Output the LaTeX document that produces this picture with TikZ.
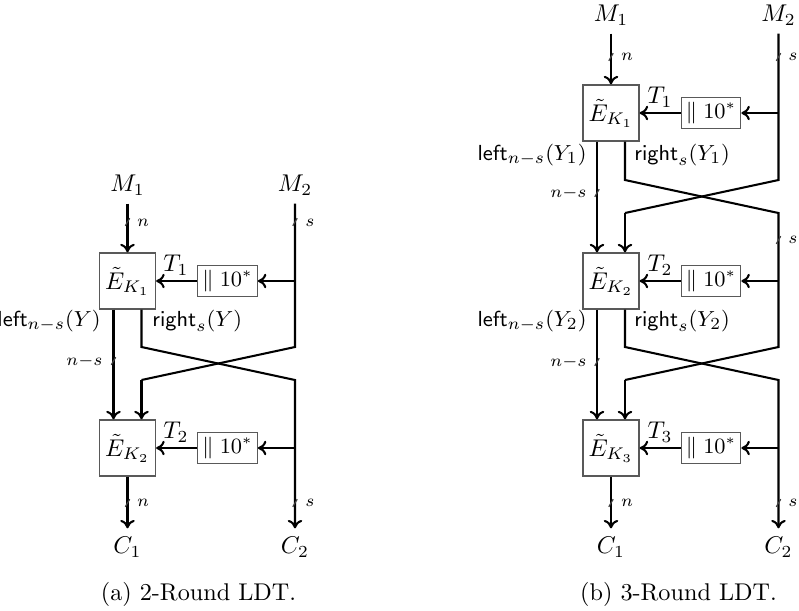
\documentclass[tikz,border=0pt]{standalone}
\usepackage{amsmath}
\usetikzlibrary{arrows.meta}
\begin{document}
\tikzset{
 ebox/.style={draw=black!65, line width=0.5pt, minimum width=23.2pt, minimum height=23.2pt, inner sep=0pt},
 tbox/.style={draw=black!65, line width=0.5pt, minimum width=24.6pt, minimum height=12.8pt, inner sep=0pt, font=\fontsize{9.2pt}{11pt}\selectfont},
 wire/.style={line width=0.85pt},
 arr/.style={wire,-{To[length=3.5pt,width=6pt]}},
 tkst/.style={black!75, line width=0.5pt},
 tklab/.style={font=\scriptsize, inner sep=0pt},
 lab/.style={inner sep=0pt, font=\fontsize{9.3pt}{11pt}\selectfont},
}
\newcommand\bustick{}
\renewcommand\bustick[2]{\draw[tkst] (#1-2.2,#2+3.8) -- (#1+2.2,#2-3.8);}
\begin{tikzpicture}[x=0.4132pt,y=-0.4132pt]
\useasboundingbox (0,0) rectangle (799,610);
% ---------------- (a) 2-Round ----------------
\node (am1) at (127.5,185) {$M_1$};
\node (am2) at (295,185) {$M_2$};
\node[ebox] (ae1) at (127.5,281) {$\tilde{E}_{K_1}$};
\node[tbox] (at1) at (227.5,281) {$\parallel 10^*$};
\node[ebox] (ae2) at (127.5,448) {$\tilde{E}_{K_2}$};
\node[tbox] (at2) at (227.5,448) {$\parallel 10^*$};
\node (ac1) at (127.5,547) {$C_1$};
\node (ac2) at (295,547) {$C_2$};
\coordinate (aj1) at (295,281);
\coordinate (aj2) at (295,448);
\coordinate (ax1) at (141.5,347);
\coordinate (ax2) at (295,380);
\coordinate (ay1) at (295,347);
\coordinate (ay2) at (141.5,380);
\coordinate (al) at (113.5,0);
\draw[arr] (am1) -- (ae1);
\draw[wire] (am2) -- (ay1) -- (ay2);
\draw[arr] (ay2) -- (ae2.north -| ay2);
\draw[arr] (aj1) -- (at1);
\draw[arr] (at1) -- (ae1);
\draw[arr] (ae1.south -| ax1) -- (ax1) -- (ax2) -- (ac2);
\draw[arr] (ae1.south -| al) -- (ae2.north -| al);
\draw[arr] (aj2) -- (at2);
\draw[arr] (at2) -- (ae2);
\draw[arr] (ae2) -- (ac1);
\node[lab,anchor=east] (all) at (101,321) {$\mathsf{left}_{n-s}(Y)$};
\node[lab,anchor=west] (alr) at (152,321) {$\mathsf{right}_s(Y)$};
\node (aT1) at (176,265) {$T_1$};
\node (aT2) at (176,432) {$T_2$};
\bustick{127.5}{222}\node[tklab] (an1) at (143,223) {$n$};
\bustick{295}{222}\node[tklab] (as1) at (310,223) {$s$};
\bustick{113.5}{361}\node[tklab,anchor=east] (ans1) at (103,361) {$n{-}s$};
\bustick{127.5}{503}\node[tklab] (an2) at (143,503) {$n$};
\bustick{295}{503}\node[tklab] (as2) at (310,503) {$s$};
\node (acap) at (198.5,594) {(a) 2-Round LDT.};
% ---------------- (b) 3-Round ----------------
\node (bm1) at (611,15) {$M_1$};
\node (bm2) at (778.5,15) {$M_2$};
\node[ebox] (be1) at (611,113) {$\tilde{E}_{K_1}$};
\node[tbox] (bt1) at (711,113) {$\parallel 10^*$};
\node[ebox] (be2) at (611,281) {$\tilde{E}_{K_2}$};
\node[tbox] (bt2) at (711,281) {$\parallel 10^*$};
\node[ebox] (be3) at (611,448) {$\tilde{E}_{K_3}$};
\node[tbox] (bt3) at (711,448) {$\parallel 10^*$};
\node (bc1) at (611,547) {$C_1$};
\node (bc2) at (778.5,547) {$C_2$};
\coordinate (bj1) at (778.5,113);
\coordinate (bj2) at (778.5,281);
\coordinate (bj3) at (778.5,448);
\coordinate (bx1) at (625,180);
\coordinate (bx2) at (778.5,213);
\coordinate (by1) at (778.5,180);
\coordinate (by2) at (625,213);
\coordinate (bu1) at (625,347);
\coordinate (bu2) at (778.5,380);
\coordinate (bv1) at (778.5,347);
\coordinate (bv2) at (625,380);
\coordinate (bl) at (597,0);
\draw[arr] (bm1) -- (be1);
\draw[wire] (bm2) -- (by1) -- (by2);
\draw[arr] (by2) -- (be2.north -| by2);
\draw[arr] (bj1) -- (bt1);
\draw[arr] (bt1) -- (be1);
\draw[wire] (be1.south -| bx1) -- (bx1) -- (bx2) -- (bv1) -- (bv2);
\draw[arr] (bv2) -- (be3.north -| bv2);
\draw[arr] (be1.south -| bl) -- (be2.north -| bl);
\draw[arr] (bj2) -- (bt2);
\draw[arr] (bt2) -- (be2);
\draw[arr] (be2.south -| bu1) -- (bu1) -- (bu2) -- (bc2);
\draw[arr] (be2.south -| bl) -- (be3.north -| bl);
\draw[arr] (bj3) -- (bt3);
\draw[arr] (bt3) -- (be3);
\draw[arr] (be3) -- (bc1);
\node[lab,anchor=east] (bll1) at (587,155) {$\mathsf{left}_{n-s}(Y_1)$};
\node[lab,anchor=west] (blr1) at (634,155) {$\mathsf{right}_s(Y_1)$};
\node[lab,anchor=east] (bll2) at (587,321) {$\mathsf{left}_{n-s}(Y_2)$};
\node[lab,anchor=west] (blr2) at (634,321) {$\mathsf{right}_s(Y_2)$};
\node (bT1) at (660,97) {$T_1$};
\node (bT2) at (660,265) {$T_2$};
\node (bT3) at (660,432) {$T_3$};
\bustick{611}{57}\node[tklab] (bn1) at (627,57) {$n$};
\bustick{778.5}{57}\node[tklab] (bs1) at (793,57) {$s$};
\bustick{597}{193}\node[tklab,anchor=east] (bns1) at (587,193) {$n{-}s$};
\bustick{778.5}{240}\node[tklab] (bs2) at (793,240) {$s$};
\bustick{597}{362}\node[tklab,anchor=east] (bns2) at (587,362) {$n{-}s$};
\bustick{611}{503}\node[tklab] (bn2) at (627,503) {$n$};
\bustick{778.5}{503}\node[tklab] (bs3) at (793,503) {$s$};
\node (bcap) at (678.5,594) {(b) 3-Round LDT.};
\end{tikzpicture}
\end{document}
